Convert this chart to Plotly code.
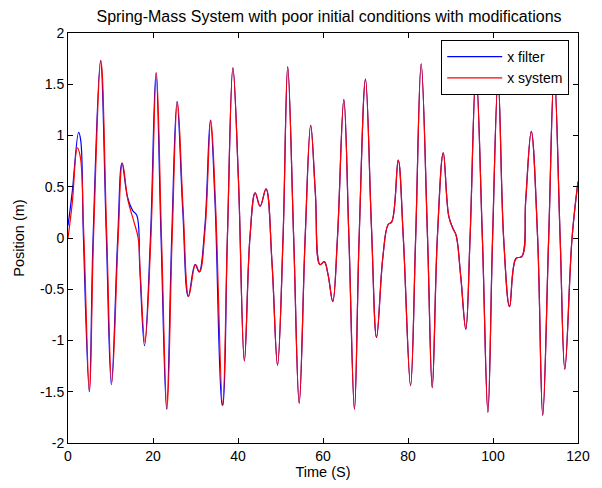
import plotly.graph_objects as go

# x system (red) key samples: time (s), position (m)
sys_t = [0.0, 1.0, 2.2, 2.9, 3.7, 5.06, 6.0, 7.75, 9.1, 10.3, 11.8, 12.8, 14.1, 15.5,
         16.5, 17.0, 18.1, 19.5, 20.8, 22.0, 23.3, 24.5, 25.75, 27.1, 28.4, 30.0, 30.95,
         32.3, 33.6, 34.7, 36.4, 37.5, 38.8, 40.1, 41.5, 42.8, 44.05, 45.2, 46.6, 48.0,
         49.3, 50.6, 51.7, 53.1, 54.4, 55.8, 57.1, 58.2, 59.3, 60.3, 61.2, 62.3, 63.4,
         64.9, 66.1, 67.4, 68.5, 70.0, 71.4, 72.6, 74.1, 75.3, 76.2, 77.7, 78.9, 80.6,
         81.8, 83.1, 84.6, 85.7, 86.9, 88.3, 89.6, 90.6, 91.3, 92.4, 93.6, 94.6, 96.0,
         97.5, 98.8, 99.9, 101.2, 102.5, 103.9, 105.4, 106.8, 107.7, 109.0, 110.5, 111.7,
         113.1, 114.4, 115.8, 116.9, 118.6, 120.0]
sys_x = [0.0, 0.34, 0.88, 0.79, 0.05, -1.50, 0.0, 1.73, 0.05, -1.41, 0.0, 0.73, 0.37, 0.16,
         0.0, -0.34, -1.02, 0.0, 1.61, 0.0, -1.67, 0.0, 1.33, 0.27, -0.57, -0.26, -0.33,
         0.11, 1.15, 0.34, -1.63, 0.0, 1.66, 0.57, -1.20, 0.0, 0.44, 0.31, 0.48, -0.24,
         -1.24, 0.0, 1.67, 0.0, -1.61, 0.0, 1.10, 0.44, -0.26, -0.23, -0.36, -0.62, 0.0,
         1.35, 0.0, -1.67, 0.0, 1.55, 0.11, -0.97, -0.18, 0.13, 0.16, 0.76, 0.0, -1.44,
         0.0, 1.70, 0.0, -1.46, 0.0, 0.83, 0.21, 0.09, 0.03, -0.37, -0.89, 0.0, 1.62,
         0.0, -1.70, 0.0, 1.55, 0.0, -0.67, -0.20, -0.18, 0.37, 1.04, 0.0, -1.73,
         0.0, 1.62, 0.0, -1.28, 0.0, 0.55]

# x filter (blue) early samples where it differs from the system; afterwards it follows it
filt_t_early = [0.0, 1.0, 2.5, 3.0, 3.6, 5.0, 5.9, 7.65, 9.0, 10.2, 11.7, 12.7, 14.0, 15.2,
                16.2, 16.9, 18.0, 19.4, 20.7, 21.9, 23.2, 24.4, 25.65, 27.0, 28.3, 29.9,
                30.85, 32.2, 33.5, 34.6, 36.3]
filt_x_early = [0.12, 0.45, 1.03, 0.95, 0.05, -1.50, 0.0, 1.73, 0.05, -1.43, 0.0, 0.73, 0.40,
                0.27, 0.22, -0.30, -1.05, 0.0, 1.61, 0.0, -1.67, 0.0, 1.33, 0.27, -0.57, -0.26,
                -0.33, 0.11, 1.15, 0.34, -1.63]

x_ticks = [0, 20, 40, 60, 80, 100, 120]
y_ticks = [-2, -1.5, -1, -0.5, 0, 0.5, 1, 1.5, 2]
y_tick_text = ["-2", "-1.5", "-1", "-0.5", "0", "0.5", "1", "1.5", "2"]

start = next(i for i, t in enumerate(sys_t) if t > filt_t_early[-1])
filt_t = filt_t_early + sys_t[start:]
filt_x = filt_x_early + sys_x[start:]

font = "Liberation Sans, Arial, sans-serif"

fig = go.Figure()
fig.add_trace(go.Scatter(x=filt_t, y=filt_x, mode="lines", name="x filter",
                         line=dict(color="#0000ff", width=1.2, shape="spline", smoothing=1.1)))
fig.add_trace(go.Scatter(x=sys_t, y=sys_x, mode="lines", name="x system",
                         line=dict(color="#ff0000", width=1.2, shape="spline", smoothing=1.1)))

axis_common = dict(showline=True, linecolor="black", linewidth=1, mirror="allticks",
                   ticks="inside", ticklen=5, tickcolor="black", showgrid=False,
                   zeroline=False, tickfont=dict(family=font, size=14, color="black"))

fig.update_layout(
    width=602, height=488,
    margin=dict(l=68, r=12, t=33, b=44),
    paper_bgcolor="white", plot_bgcolor="white",
    title=dict(text="Spring-Mass System with poor initial conditions with modifications",
               x=(68 + 590) / 2 / 602, xanchor="center", y=1 - 16 / 488, yanchor="middle",
               font=dict(family=font, size=16, color="black")),
    xaxis=dict(range=[0, 120], tickvals=x_ticks, ticktext=[str(v) for v in x_ticks],
               title=dict(text="Time (S)", font=dict(family=font, size=14.5, color="black"),
                          standoff=2),
               **axis_common),
    yaxis=dict(range=[-2, 2], tickvals=y_ticks, ticktext=y_tick_text,
               title=dict(text="Position (m)", font=dict(family=font, size=14.5, color="black"),
                          standoff=12),
               **axis_common),
    legend=dict(x=(450 - 68) / 522, y=(443.5 - 40) / 410.5, xanchor="left", yanchor="top",
                bgcolor="white", bordercolor="black", borderwidth=1,
                font=dict(family=font, size=14, color="black"),
                itemwidth=55, tracegroupgap=0),
    showlegend=True,
)

fig.write_html("out.html")
